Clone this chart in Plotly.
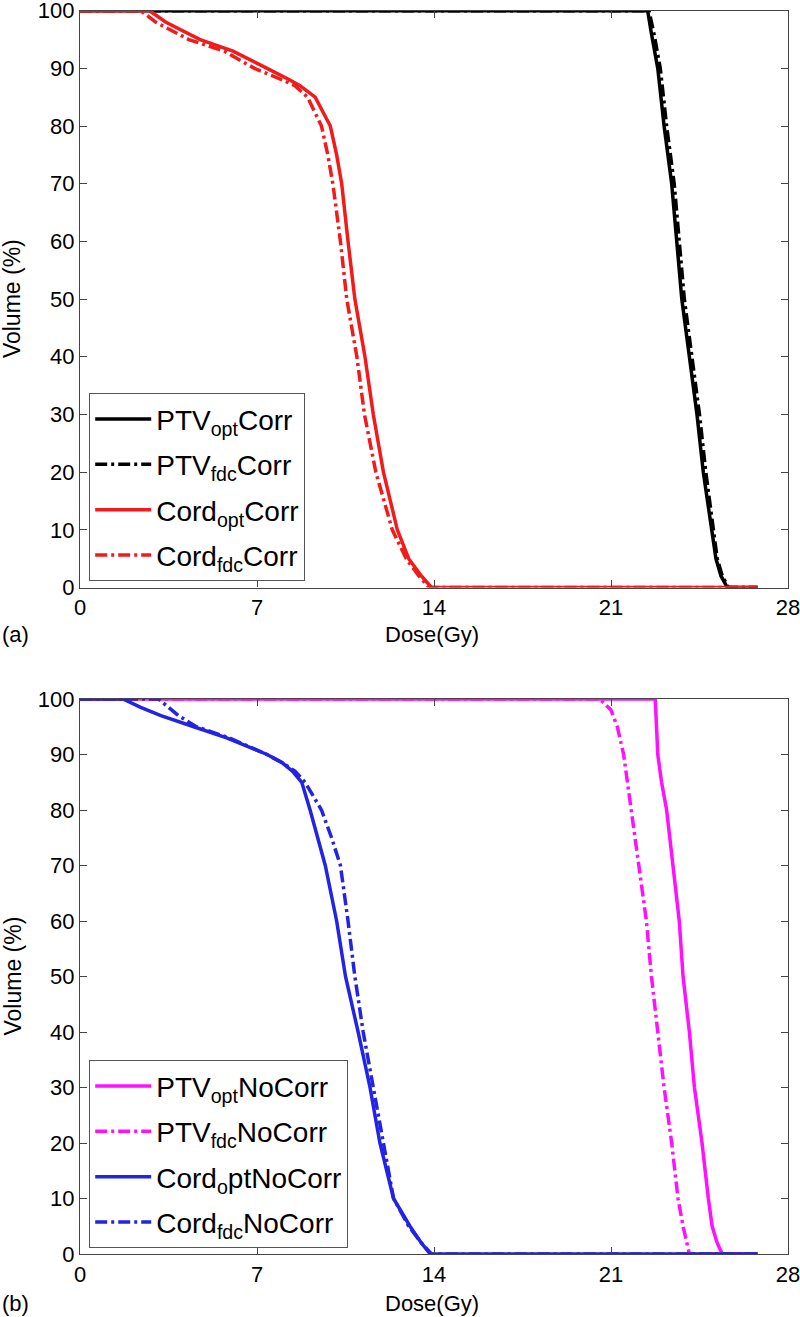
import plotly.graph_objects as go

W, H = 800, 1317

# ---------------- Panel (a): with correction ----------------
ptv_opt_corr_dose = [0, 22.45, 22.6, 22.85, 23.1, 23.4, 23.6, 23.8, 24.1, 24.4, 24.65, 25.0, 25.15, 25.35, 25.6, 26.8]
ptv_opt_corr_vol = [100, 100, 96, 90, 80, 70, 60, 50, 40, 30, 20, 10, 5, 2, 0, 0]

ptv_fdc_corr_dose = [0, 22.5, 22.7, 22.95, 23.2, 23.5, 23.7, 23.9, 24.2, 24.5, 24.75, 25.05, 25.2, 25.4, 25.65, 26.8]
ptv_fdc_corr_vol = [100, 100, 96, 90, 80, 70, 60, 50, 40, 30, 20, 10, 5, 2, 0, 0]

cord_opt_corr_dose = [0, 2.75, 3.4, 4.75, 6.05, 7.0, 7.4, 8.3, 8.7, 9.3, 9.9, 10.15, 10.35, 10.6, 10.87, 11.27, 11.6, 12.0, 12.55, 13.0, 13.5, 13.9, 26.8]
cord_opt_corr_vol = [100, 100, 98, 95, 93, 91, 90, 88, 87, 85, 80, 75, 70, 60, 50, 40, 30, 20, 10, 5, 2, 0, 0]

cord_fdc_corr_dose = [0, 2.4, 3.0, 4.3, 5.7, 6.9, 8.0, 8.5, 9.0, 9.55, 9.8, 10.0, 10.3, 10.55, 10.95, 11.25, 11.7, 12.35, 12.9, 13.4, 13.8, 26.8]
cord_fdc_corr_vol = [100, 100, 98, 95, 93, 90, 88, 87, 85, 80, 75, 70, 60, 50, 40, 30, 20, 10, 5, 2, 0, 0]

# ---------------- Panel (b): without correction ----------------
ptv_opt_nocorr_dose = [0, 22.75, 22.8, 22.85, 23.0, 23.2, 23.45, 23.7, 23.85, 24.1, 24.3, 24.6, 24.85, 25.0, 25.2, 25.4, 26.8]
ptv_opt_nocorr_vol = [100, 100, 95, 90, 85, 80, 70, 60, 50, 40, 30, 20, 10, 5, 2, 0, 0]

ptv_fdc_nocorr_dose = [0, 20.55, 21.0, 21.25, 21.5, 21.8, 22.07, 22.4, 22.6, 22.85, 23.1, 23.4, 23.65, 23.85, 24.1, 26.8]
ptv_fdc_nocorr_vol = [100, 100, 98, 95, 90, 80, 70, 60, 50, 40, 30, 20, 10, 5, 0, 0]

cord_opt_nocorr_dose = [0, 1.7, 2.4, 3.2, 4.5, 5.8, 7.4, 8.0, 8.4, 8.77, 9.1, 9.4, 9.7, 10.15, 10.5, 11.0, 11.47, 11.86, 12.4, 13.05, 13.5, 13.85, 26.8]
cord_opt_nocorr_vol = [100, 100, 98.5, 97, 95, 93, 90, 88.5, 87, 85, 80, 75, 70, 60, 50, 40, 30, 20, 10, 5, 2, 0, 0]

cord_fdc_nocorr_dose = [0, 3.1, 3.9, 4.6, 5.9, 7.4, 8.0, 8.5, 8.9, 9.55, 9.95, 10.3, 10.6, 10.87, 11.2, 11.6, 12.0, 12.4, 13.0, 13.5, 13.9, 26.8]
cord_fdc_nocorr_vol = [100, 100, 97, 95, 93, 90, 88.5, 87, 85, 80, 75, 70, 60, 50, 40, 30, 20, 10, 5, 2, 0, 0]

x_ticks = [0, 7, 14, 21, 28]
y_ticks = [0, 10, 20, 30, 40, 50, 60, 70, 80, 90, 100]

names_a = ["PTV<sub>opt</sub>Corr", "PTV<sub>fdc</sub>Corr", "Cord<sub>opt</sub>Corr", "Cord<sub>fdc</sub>Corr"]
names_b = ["PTV<sub>opt</sub>NoCorr", "PTV<sub>fdc</sub>NoCorr", "Cord<sub>o</sub>ptNoCorr", "Cord<sub>fdc</sub>NoCorr"]

BLACK = "#000000"
RED = "#f21a1a"
MAGENTA = "#ff10ff"
BLUE = "#2323e6"
DASHDOT = "12px,4px,3px,4px"
LW = 3.5
FONT = "Liberation Sans, Arial, Helvetica, sans-serif"

fig = go.Figure()

def add(x, y, name, color, dash, xa, ya, leg, grp):
    fig.add_trace(go.Scatter(x=x, y=y, mode="lines", name=name, legendgroup=grp,
                             line=dict(color=color, width=LW, dash=dash),
                             xaxis=xa, yaxis=ya, legend=leg))

add(ptv_opt_corr_dose, ptv_opt_corr_vol, names_a[0], BLACK, "solid", "x", "y", "legend", "a1")
add(ptv_fdc_corr_dose, ptv_fdc_corr_vol, names_a[1], BLACK, DASHDOT, "x", "y", "legend", "a2")
add(cord_opt_corr_dose, cord_opt_corr_vol, names_a[2], RED, "solid", "x", "y", "legend", "a3")
add(cord_fdc_corr_dose, cord_fdc_corr_vol, names_a[3], RED, DASHDOT, "x", "y", "legend", "a4")

add(ptv_opt_nocorr_dose, ptv_opt_nocorr_vol, names_b[0], MAGENTA, "solid", "x2", "y2", "legend2", "b1")
add(ptv_fdc_nocorr_dose, ptv_fdc_nocorr_vol, names_b[1], MAGENTA, DASHDOT, "x2", "y2", "legend2", "b2")
add(cord_opt_nocorr_dose, cord_opt_nocorr_vol, names_b[2], BLUE, "solid", "x2", "y2", "legend2", "b3")
add(cord_fdc_nocorr_dose, cord_fdc_nocorr_vol, names_b[3], BLUE, DASHDOT, "x2", "y2", "legend2", "b4")

def py(px):
    return 1 - px / H

xdom = [80 / W, 788 / W]
ydom_a = [py(587.5), py(10.7)]
ydom_b = [py(1254), py(699)]

axis_common = dict(showgrid=False, zeroline=False, showline=True, linecolor="#444444", linewidth=1.2,
                   mirror="ticks", ticks="inside", ticklen=7, tickcolor="#444444", tickwidth=1.2,
                   tickfont=dict(family=FONT, size=22, color="black"), automargin=False,
                   ticklabeloverflow="allow")

leg_common = dict(xanchor="left", yanchor="top", bgcolor="white",
                  bordercolor="#555555", borderwidth=1.2,
                  font=dict(family=FONT, size=28, color="black"),
                  itemwidth=56, tracegroupgap=6)

fig.update_layout(
    width=W, height=H,
    margin=dict(l=0, r=0, t=0, b=0),
    paper_bgcolor="white", plot_bgcolor="white",
    font=dict(family=FONT, color="black"),
    xaxis=dict(domain=xdom, range=[0, 28], tickvals=x_ticks, anchor="y", **axis_common),
    yaxis=dict(domain=ydom_a, range=[0, 100], tickvals=y_ticks, anchor="x", **axis_common),
    xaxis2=dict(domain=xdom, range=[0, 28], tickvals=x_ticks, anchor="y2", **axis_common),
    yaxis2=dict(domain=ydom_b, range=[0, 100], tickvals=y_ticks, anchor="x2", **axis_common),
    legend=dict(x=89 / W, y=py(393), **leg_common),
    legend2=dict(x=89 / W, y=py(1060), **leg_common),
    showlegend=True,
)

for ytop, ybot, lab, ylab in [(10.7, 587.5, "(a)", 635), (699, 1254, "(b)", 1303)]:
    fig.add_annotation(x=432 / W, y=py(ylab), xref="paper", yref="paper", text="Dose(Gy)",
                       showarrow=False, font=dict(family=FONT, size=22, color="black"),
                       xanchor="center", yanchor="middle")
    fig.add_annotation(x=0, y=py(ylab), xref="paper", yref="paper", text=lab,
                       showarrow=False, font=dict(family=FONT, size=22, color="black"),
                       xanchor="left", yanchor="middle")
    fig.add_annotation(x=12 / W, y=py((ytop + ybot) / 2), xref="paper", yref="paper", text="Volume (%)",
                       showarrow=False, font=dict(family=FONT, size=23, color="black"),
                       textangle=-90, xanchor="center", yanchor="middle")

fig.write_html("out.html", config={"displayModeBar": False},
               post_script="document.body.style.margin='0';document.body.style.padding='0';"
                           "document.documentElement.style.overflow='hidden';")
